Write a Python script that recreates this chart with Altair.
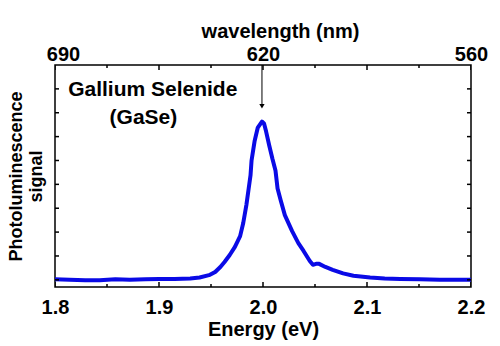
import altair as alt
import pandas as pd

# ---- data ----
energy = [1.800, 1.814, 1.829, 1.843, 1.858, 1.872, 1.887, 1.900, 1.915, 1.930,
          1.939, 1.949, 1.954, 1.959, 1.963, 1.968, 1.973, 1.978, 1.981, 1.984,
          1.986, 1.988, 1.989, 1.992, 1.995, 1.999, 2.001, 2.003, 2.006, 2.009,
          2.012, 2.014, 2.017, 2.021, 2.028, 2.034, 2.039, 2.045, 2.048, 2.051,
          2.054, 2.060, 2.067, 2.077, 2.087, 2.103, 2.117, 2.132, 2.151, 2.170, 2.200]
signal = [0.02, 0.00, -0.02, -0.02, 0.02, 0.00, 0.02, 0.04, 0.04, 0.06,
          0.10, 0.21, 0.33, 0.54, 0.75, 1.04, 1.38, 1.83, 2.38, 3.13,
          3.75, 4.38, 5.00, 5.83, 6.38, 6.63, 6.55, 6.21, 5.63, 5.08,
          4.58, 3.83, 3.33, 2.71, 2.04, 1.54, 1.21, 0.79, 0.63, 0.67,
          0.67, 0.54, 0.42, 0.27, 0.17, 0.10, 0.06, 0.04, 0.02, 0.00, 0.00]

x_domain = [1.8, 2.2]
y_domain = [-0.3, 9.0]
x_major = [1.8, 1.9, 2.0, 2.1, 2.2]
x_minor = [1.85, 1.95, 2.05, 2.15]
y_ticks = [0, 1, 2, 3, 4, 5, 6, 7, 8]
wl_pos = [1.8, 2.0, 2.2]
wl_text = ["690", "620", "560"]

note_text = ["Gallium Selenide", "(GaSe)"]
note_x = [1.894, 1.885]
note_y = [7.71, 6.54]

arrow_x = [1.999]
arrow_top = [9.0]
arrow_end = [7.35]
arrow_tip = [7.27]

df = pd.DataFrame({"energy": energy, "signal": signal})
notes = pd.DataFrame({"t": note_text, "x": note_x, "y": note_y})
arrow = pd.DataFrame({"x": arrow_x, "y1": arrow_top, "y2": arrow_end, "tip": arrow_tip})

# tick tables: every tick value on both edges of the frame (half is clipped away -> inward ticks)
yt = pd.DataFrame([{"y": v, "edge": e} for v in y_ticks for e in x_domain])
xt_major = pd.DataFrame([{"x": v, "edge": e} for v in x_major for e in y_domain])
xt_minor = pd.DataFrame([{"x": v, "edge": e} for v in x_minor for e in y_domain])

FONT = "Liberation Sans"
xs = alt.Scale(domain=x_domain, nice=False, zero=False)
ys = alt.Scale(domain=y_domain, nice=False, zero=False)

wl_expr = " : ".join(
    f"abs(datum.value - {p}) < 0.001 ? '{t}'" for p, t in zip(wl_pos, wl_text)
) + " : ''"

base_ax = dict(domain=False, grid=False, labelFlush=False, labelOverlap=False, ticks=False)

main = alt.Chart(df).mark_line(color="#0A0AE6", strokeWidth=4, strokeJoin="round").encode(
    x=alt.X("energy:Q", scale=xs, axis=alt.Axis(
        orient="bottom", values=x_major, format=".1f",
        labelPadding=10, title="Energy (eV)", titlePadding=2, **base_ax)),
    y=alt.Y("signal:Q", scale=ys, axis=alt.Axis(
        orient="left", values=y_ticks, labels=False,
        title=["Photoluminescence", "signal"], titlePadding=10, titleLineHeight=20,
        titleFontSize=18, **base_ax)),
)

top = alt.Chart(df).mark_line(strokeOpacity=0).encode(
    x=alt.X("energy:Q", scale=xs, axis=alt.Axis(
        orient="top", values=x_major, labelExpr=wl_expr, labelPadding=1,
        labelOffset={"condition": {"test": "datum.value < 1.85", "value": 8}, "value": 0},
        title="wavelength (nm)", titleX=225, titlePadding=3, **base_ax)),
    y=alt.Y("signal:Q", scale=ys, axis=None),
)

y_tick_marks = alt.Chart(yt).mark_tick(orient="horizontal", size=8, thickness=1.5,
                                       color="black", clip=True, opacity=1).encode(
    x=alt.X("edge:Q", scale=xs, axis=None),
    y=alt.Y("y:Q", scale=ys, axis=None),
)
x_major_marks = alt.Chart(xt_major).mark_tick(orient="vertical", size=10, thickness=1.5,
                                              color="black", clip=True, opacity=1).encode(
    x=alt.X("x:Q", scale=xs, axis=None),
    y=alt.Y("edge:Q", scale=ys, axis=None),
)
x_minor_marks = alt.Chart(xt_minor).mark_tick(orient="vertical", size=6, thickness=1.5,
                                              color="black", clip=True, opacity=1).encode(
    x=alt.X("x:Q", scale=xs, axis=None),
    y=alt.Y("edge:Q", scale=ys, axis=None),
)

shaft = alt.Chart(arrow).mark_rule(color="black", strokeWidth=1).encode(
    x=alt.X("x:Q", scale=xs, axis=None),
    y=alt.Y("y1:Q", scale=ys, axis=None),
    y2="y2:Q",
)
head = alt.Chart(arrow).mark_point(shape="triangle-down", filled=True, color="black",
                                   size=28, opacity=1).encode(
    x=alt.X("x:Q", scale=xs, axis=None),
    y=alt.Y("tip:Q", scale=ys, axis=None),
)

text = alt.Chart(notes).mark_text(font=FONT, fontSize=21, fontWeight="bold",
                                  align="center", baseline="alphabetic",
                                  color="black").encode(
    x=alt.X("x:Q", scale=xs, axis=None),
    y=alt.Y("y:Q", scale=ys, axis=None),
    text="t:N",
)

chart = alt.layer(main, top, y_tick_marks, x_major_marks, x_minor_marks,
                  shaft, head, text).resolve_scale(
    x="shared", y="shared"
).resolve_axis(
    x="independent", y="independent"
).properties(
    width=416, height=222,
    padding={"left": 55, "top": 65, "right": 29, "bottom": 59},
    autosize=alt.AutoSizeParams(type="none"),
    background="white",
).configure_view(
    stroke="black", strokeWidth=1.5
).configure_axis(
    labelFont=FONT, labelFontSize=20, labelFontWeight="bold", labelColor="black",
    titleFont=FONT, titleFontSize=20, titleFontWeight="bold", titleColor="black",
)

chart.save("out.html", embed_options={"renderer": "svg", "actions": False})
